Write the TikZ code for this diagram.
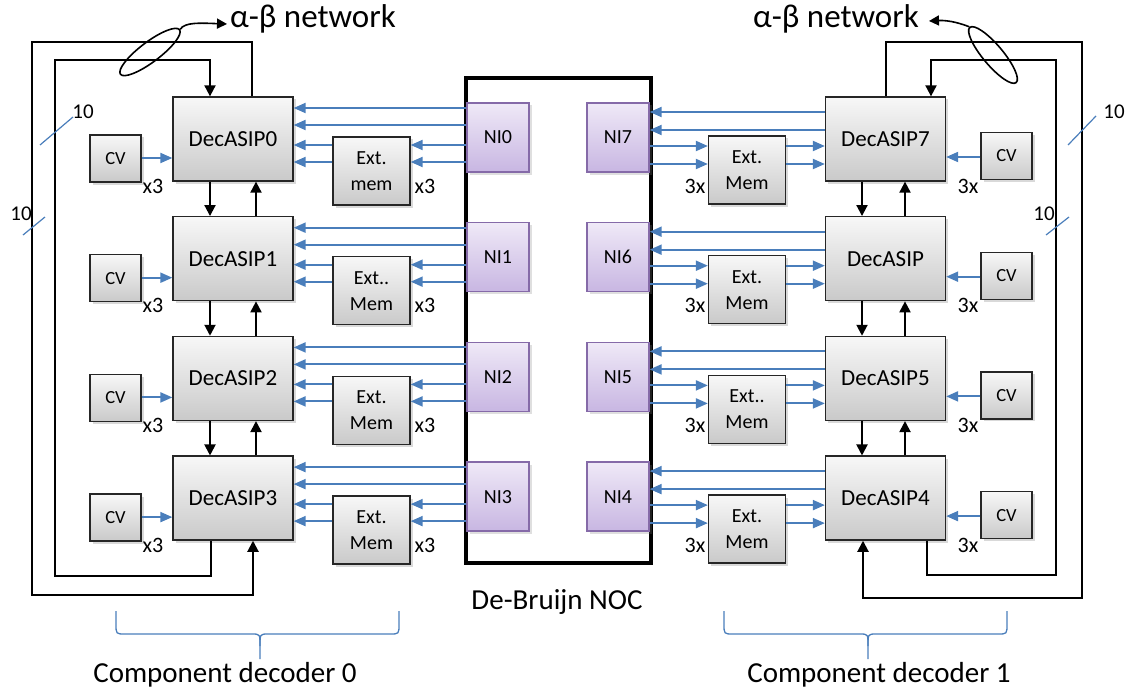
\documentclass[tikz,border=0pt]{standalone}
\usepackage{fontspec}
\setmainfont{Carlito}
\usetikzlibrary{arrows.meta,shadows,shapes.geometric}
\definecolor{oblue}{RGB}{74,126,187}
\definecolor{nifillA}{RGB}{239,233,247}
\definecolor{nifillB}{RGB}{200,182,226}
\definecolor{niborder}{RGB}{133,106,168}
\begin{document}
\begin{tikzpicture}[x=1pt,y=-1pt,
  box/.style={draw=black!85, line width=1.3pt, top color=gray!6, bottom color=gray!42, inner sep=0pt, align=center,
     drop shadow={shadow xshift=2.5pt, shadow yshift=-2.5pt, opacity=0.3}},
  decbox/.style={box, minimum width=120pt, minimum height=84pt, font=\fontsize{23}{27}\selectfont},
  cvbox/.style={box, minimum width=51pt, minimum height=47pt, font=\fontsize{18.5}{22}\selectfont},
  extbox/.style={box, minimum width=77pt, minimum height=68pt, font=\fontsize{20}{26}\selectfont},
  nibox/.style={draw=niborder, line width=1.3pt, top color=nifillA, bottom color=nifillB, minimum width=62pt, minimum height=69pt, inner sep=0pt,
     font=\fontsize{20}{24}\selectfont, drop shadow={shadow xshift=2.5pt, shadow yshift=-2.5pt, opacity=0.25}},
  barrow/.style={draw=oblue, line width=2pt, -{Triangle[length=12pt,width=10pt]}},
  karrow/.style={draw=black, line width=2pt, -{Triangle[length=11pt,width=11pt]}},
  kthin/.style={draw=black, line width=1.6pt, -{Triangle[length=10pt,width=10pt]}},
  lbl/.style={font=\fontsize{22}{26}\selectfont, inner sep=0pt},
  tenlbl/.style={font=\fontsize{21}{24}\selectfont, inner sep=0pt},
  slash/.style={draw=oblue, line width=1.2pt},
  brace/.style={draw=oblue, line width=1.3pt},
  big/.style={font=\fontsize{29}{34}\selectfont, inner sep=0pt},
]
\useasboundingbox (0,0) rectangle (1132,690);

% NOC
\node[draw, line width=4pt, minimum width=185pt, minimum height=485pt, inner sep=0pt] (NOC) at (558.5,320.5) {};
\node[big] (NOCL) at (557,602) {De-Bruijn NOC};

% left decoder
\foreach \i/\lab/\elab in {0/DecASIP0/{Ext.\\mem},1/DecASIP1/{Ext..\\Mem},2/DecASIP2/{Ext.\\Mem},3/DecASIP3/{Ext.\\Mem}} {
  \pgfmathsetmacro\dy{119.7*\i}
  \pgfmathsetmacro\ya{108+\dy}
  \pgfmathsetmacro\yb{125+\dy}
  \pgfmathsetmacro\yc{145+\dy}
  \pgfmathsetmacro\yd{162+\dy}
  \pgfmathsetmacro\ye{158+\dy}
  \node[decbox] (L\i) at (233,139+\dy) {\lab};
  \node[cvbox] (LC\i) at (115.5,158.5+\dy) {CV};
  \node[extbox] (LE\i) at (371.5,171+\dy) {\elab};
  \node[nibox] (LN\i) at (498,137.5+\dy) {NI\i};
  \node[lbl] (LX\i) at (153,186+\dy) {x3};
  \node[lbl] (LY\i) at (425,186+\dy) {x3};
  \draw[barrow] (LN\i.west |- 0,\ya) -- (L\i.east |- 0,\ya);
  \draw[barrow] (LN\i.west |- 0,\yb) -- (L\i.east |- 0,\yb);
  \draw[barrow] (LN\i.west |- 0,\yc) -- (LE\i.east |- 0,\yc);
  \draw[barrow] (LN\i.west |- 0,\yd) -- (LE\i.east |- 0,\yd);
  \draw[barrow] (LE\i.west |- 0,\yc) -- (L\i.east |- 0,\yc);
  \draw[barrow] (LE\i.west |- 0,\yd) -- (L\i.east |- 0,\yd);
  \draw[barrow] (LC\i.east |- 0,\ye) -- (L\i.west |- 0,\ye);
}

% right decoder
\foreach \i/\lab/\elab/\ni in {0/DecASIP7/{Ext.\\Mem}/7,1/DecASIP/{Ext.\\Mem}/6,2/DecASIP5/{Ext..\\Mem}/5,3/DecASIP4/{Ext.\\Mem}/4} {
  \pgfmathsetmacro\dy{119.7*\i}
  \pgfmathsetmacro\ya{112+\dy}
  \pgfmathsetmacro\yb{130+\dy}
  \pgfmathsetmacro\yc{146+\dy}
  \pgfmathsetmacro\yd{164+\dy}
  \pgfmathsetmacro\ye{157+\dy}
  \node[decbox] (R\i) at (885.5,139+\dy) {\lab};
  \node[cvbox] (RC\i) at (1006.5,156+\dy) {CV};
  \node[extbox] (RE\i) at (747,170+\dy) {\elab};
  \node[nibox] (RN\i) at (618,137.5+\dy) {NI\ni};
  \node[lbl] (RX\i) at (695,186+\dy) {3x};
  \node[lbl] (RY\i) at (968,186+\dy) {3x};
  \draw[barrow] (R\i.west |- 0,\ya) -- (RN\i.east |- 0,\ya);
  \draw[barrow] (R\i.west |- 0,\yb) -- (RN\i.east |- 0,\yb);
  \draw[barrow] (RN\i.east |- 0,\yc) -- (RE\i.west |- 0,\yc);
  \draw[barrow] (RN\i.east |- 0,\yd) -- (RE\i.west |- 0,\yd);
  \draw[barrow] (RE\i.east |- 0,\yc) -- (R\i.west |- 0,\yc);
  \draw[barrow] (RE\i.east |- 0,\yd) -- (R\i.west |- 0,\yd);
  \draw[barrow] (RC\i.west |- 0,\ye) -- (R\i.east |- 0,\ye);
}

% vertical chains
\foreach \i/\j in {0/1,1/2,2/3} {
  \draw[karrow] (L\i.south -| 210,0) -- (L\j.north -| 210,0);
  \draw[karrow] (L\j.north -| 256,0) -- (L\i.south -| 256,0);
  \draw[karrow] (R\i.south -| 862,0) -- (R\j.north -| 862,0);
  \draw[karrow] (R\j.north -| 905,0) -- (R\i.south -| 905,0);
}

% feedback loops
\draw[karrow] (L0.north -| 252,0) |- (32,42) |- (253,595) -- (L3.south -| 253,0);
\draw[karrow] (L3.south -| 211,0) |- (55,576) |- (210,60) -- (L0.north -| 210,0);
\draw[karrow] (R0.north -| 886,0) |- (1082,42) |- (863,598) -- (R3.south -| 863,0);
\draw[karrow] (R3.south -| 927,0) |- (1056,575) |- (931,60) -- (R0.north -| 931,0);

% alpha-beta network
\node[draw, line width=1.6pt, ellipse, rotate=37, minimum width=74pt, minimum height=20pt, inner sep=0pt] (EL) at (150,52) {};
\node[draw, line width=1.6pt, ellipse, rotate=-50, minimum width=72pt, minimum height=20pt, inner sep=0pt] (ER) at (993,55) {};
\node[font=\fontsize{33}{38}\selectfont, inner sep=0pt] (TL) at (313,19) {α-β network};
\node[font=\fontsize{33}{38}\selectfont, inner sep=0pt] (TR) at (836,19) {α-β network};
\coordinate (TLtip) at (227,24);
\coordinate (TRtip) at (929,21);
\draw[kthin] (EL.east) .. controls (185,22) and (200,23) .. (TLtip);
\draw[kthin] (ER.west) .. controls (962,24) and (950,20) .. (TRtip);

% bus width marks
\draw[slash] (40,145) -- (73,117);
\node[tenlbl] (T1) at (83,112) {10};
\draw[slash] (23,235) -- (45,217);
\node[tenlbl] (T2) at (21,214) {10};
\draw[slash] (1068,145) -- (1096,116);
\node[tenlbl] (T3) at (1114,112) {10};
\draw[slash] (1046,235) -- (1069,217);
\node[tenlbl] (T4) at (1044,214) {10};

% braces
\draw[brace] (116,611) -- (116,624) .. controls (116,634) .. (125,634) -- (252,634) .. controls (260,634) .. (260,646) -- (260,659);
\draw[brace] (260,646) .. controls (260,634) .. (268,634) -- (390,634) .. controls (399,634) .. (399,624) -- (399,611);
\draw[brace] (724,611) -- (724,624) .. controls (724,634) .. (733,634) -- (860,634) .. controls (868,634) .. (868,646) -- (868,659);
\draw[brace] (868,646) .. controls (868,634) .. (876,634) -- (998,634) .. controls (1007,634) .. (1007,624) -- (1007,611);
\node[big] (CD0) at (225,675) {Component decoder 0};
\node[big] (CD1) at (879,675) {Component decoder 1};
\end{tikzpicture}
\end{document}
